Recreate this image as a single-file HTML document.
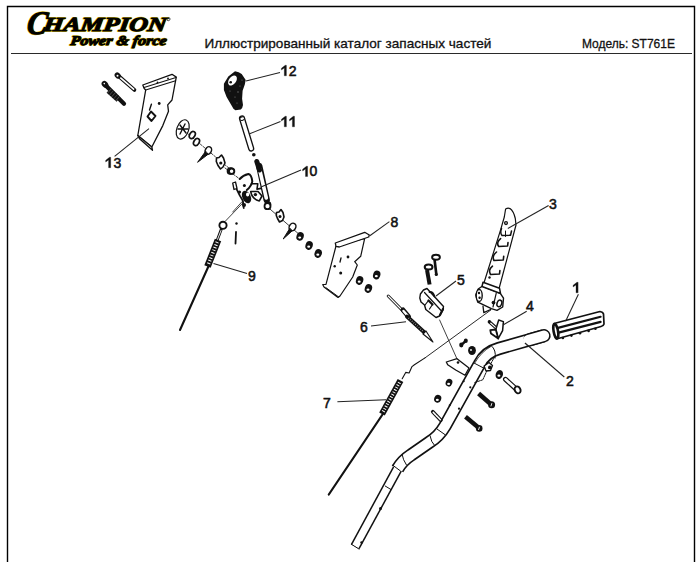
<!DOCTYPE html>
<html><head><meta charset="utf-8">
<style>
html,body{margin:0;padding:0;background:#fff;}
body{width:700px;height:562px;position:relative;overflow:hidden;font-family:"Liberation Sans",sans-serif;}
.frame{position:absolute;left:7px;top:6px;width:686px;height:600px;border:1.5px solid #111;box-sizing:border-box;}
.hline{position:absolute;left:11px;top:53px;width:681px;height:1.5px;background:#333;}
.t{position:absolute;white-space:nowrap;color:#111;}
svg{position:absolute;left:0;top:0;}
</style></head><body>
<svg width="700" height="562" viewBox="0 0 700 562">
<path d="M7.5 562 L7.5 6.5 L694.5 6.5 L694.5 562" fill="none" stroke="#000" stroke-width="1.4"/>
<path d="M11 53.5 L692 53.5" stroke="#2a2a2a" stroke-width="1.2"/>
<g id="logo" font-family="Liberation Serif" font-weight="bold" font-style="italic" transform="translate(4.2,0) skewX(-8)">
<g fill="#e8c81a" stroke="#e8c81a" stroke-width="1.8" stroke-linejoin="round">
<text x="26.6" y="33.7" font-size="33" textLength="20" lengthAdjust="spacingAndGlyphs">C</text>
<text x="42.8" y="30.7" font-size="20" textLength="123" lengthAdjust="spacingAndGlyphs">HAMPION</text>
<text x="72.3" y="45.4" font-size="13.5" textLength="96" lengthAdjust="spacingAndGlyphs">Power &amp; force</text>
</g>
<g fill="#000" stroke="#000" stroke-width="1.0" stroke-linejoin="round">
<text x="26.6" y="33.7" font-size="33" textLength="20" lengthAdjust="spacingAndGlyphs">C</text>
<text x="42.8" y="30.7" font-size="20" textLength="123" lengthAdjust="spacingAndGlyphs">HAMPION</text>
<text x="72.3" y="45.4" font-size="13.5" textLength="96" lengthAdjust="spacingAndGlyphs">Power &amp; force</text>
</g>
<circle cx="167" cy="19.2" r="1.5" fill="none" stroke="#222" stroke-width="0.8"/>
</g>
<g id="hdr" font-family="Liberation Sans" font-size="12.6" fill="#111" stroke="#111" stroke-width="0.3">
<text x="204.4" y="47.7" textLength="287" lengthAdjust="spacingAndGlyphs">Иллюстрированный каталог запасных частей</text>
<text x="581.9" y="47.7" textLength="93" lengthAdjust="spacingAndGlyphs">Модель: ST761E</text>
</g>
<g id="handle" fill="none" stroke-linejoin="round">
<path d="M543.5 335.8 L499 348.5 Q485.3 352.2 479.5 364 L445 426 Q438.9 436.5 429 442.5 L411 455 Q402.1 460.8 397.5 469" stroke="#111" stroke-width="13.3"/>
<path d="M398.5 467 L355.2 546.6" stroke="#111" stroke-width="10.2"/>
<path d="M543.5 335.8 L499 348.5 Q485.3 352.2 479.5 364 L445 426 Q438.9 436.5 429 442.5 L411 455 Q402.1 460.8 397.5 469" stroke="#fff" stroke-width="10"/>
<path d="M398.5 467 L355.2 546.6" stroke="#fff" stroke-width="7.2"/>
<path d="M544 335.7 L530 339.6" stroke="#111" stroke-width="13.3" stroke-linecap="round"/>
<path d="M544 335.7 L528 340.2" stroke="#fff" stroke-width="10.3" stroke-linecap="round"/>

<g stroke="#111" stroke-width="1">
<path d="M473.4 362.7 L484.5 368.5"/>
<path d="M491 345.5 Q496.5 350 495 358.5"/>
<path d="M437 429 L445.5 435"/>
<path d="M430 435.5 Q431 442 435 446"/>
<path d="M402 454 Q403 460 406.5 465"/>
<path d="M392.5 465 L400.5 471"/>
<path d="M385 485.9 L391.1 489.6"/>
<path d="M351 544 L359.4 549.3"/>
</g>
<g fill="#111"><circle cx="380.5" cy="508.5" r="1.5"/><circle cx="361.6" cy="542.5" r="1.3"/></g>
</g>
<g id="parts" stroke-linecap="round" stroke-linejoin="round">
<!-- grip 1 -->
<g id="grip">
<path d="M554 323.5 L600 311.5 Q603 312 603.5 314 L604 324 Q603.5 326 601 326.5 L556.5 339 Z" fill="#fff" stroke="#111" stroke-width="1.7"/>
<path d="M558 327.9 L600.6 316.8 M558.6 332.6 L600.6 321.9" stroke="#111" stroke-width="2.2" fill="none"/>
<ellipse cx="555.8" cy="331.2" rx="2.2" ry="7.3" transform="rotate(-10 555.8 331.2)" fill="#fff" stroke="#111" stroke-width="2.6"/>
<g fill="#111"><circle cx="562.9" cy="338" r="1.3"/><circle cx="571.4" cy="335.6" r="1.3"/><circle cx="580" cy="333.2" r="1.3"/><circle cx="588.6" cy="330.9" r="1.3"/><circle cx="595.4" cy="328.8" r="1.3"/></g>
</g>
<!-- bar 3 -->
<g id="bar3" stroke="#111" stroke-width="1.2" fill="#fff">
<path d="M505.6 209 Q508 207.6 510 208.6 Q513.5 211 515.3 218.5 L516 225 L498.8 289.5 L483.7 283.7 L500.6 229.9 L504.3 217 Z"/>
<path d="M483 306.2 L483.8 312.7 L490.6 309.5" fill="#fff" stroke-width="1.3"/>
<path d="M478.2 289 L482.2 286.2 L500.3 293.4 L503.5 298.2 L502.7 307 L497 310.3 L491.4 308.7 L477.8 302.2 L475.8 295 Z" stroke-width="1.4"/>
<path d="M483 282.2 L499.5 288.2 L500.5 293.5 L482 286.5 Z" stroke-width="1.5"/>
<ellipse cx="479.2" cy="295.5" rx="3" ry="6" stroke-width="1.4"/>
<g fill="#111" stroke="none"><circle cx="479" cy="293" r="1.2"/><circle cx="479.6" cy="297.8" r="1.2"/><circle cx="493.5" cy="302.6" r="1.9"/></g>
<path d="M496.2 293.4 L493 307" fill="none" stroke-width="1.2"/>
<ellipse cx="499.4" cy="303.4" rx="2.3" ry="3.4" transform="rotate(20 499.4 303.4)" stroke-width="1.5"/>
<circle cx="506" cy="223.1" r="1.4" fill="#fff" stroke-width="1.3"/>

<path d="M501.5 228.5 Q499.8 233 502 235.5 L510.5 235.3 L511.5 231" fill="none" stroke-width="1.5"/>
<path d="M505.5 231 L505.5 236.5" stroke-width="1"/>
<path d="M500.6 238.6 Q495.8 242.5 498.7 246.5 L507.6 246 L508 242.6" fill="none" stroke-width="1.6"/>
<path d="M496.5 252 Q491.5 256 494 260.5 L503.3 260 L503.7 256.4" fill="none" stroke-width="1.6"/>
<path d="M492.5 266.2 Q487.8 270 490.5 274.5 L499.5 274 L499.9 270.6" fill="none" stroke-width="1.6"/>
<circle cx="489.5" cy="277.5" r="1.2" fill="#111" stroke="none"/>
</g>
<!-- clip 4 -->
<g id="clip4" stroke="#111" fill="#fff">
<path d="M489.5 322 L496 327.8" stroke-width="3.2"/>
<path d="M489.5 322 L496 327.8" stroke="#fff" stroke-width="1.1"/>
<circle cx="489.3" cy="321.7" r="1.6" fill="#111" stroke="none"/>
<path d="M498.7 320 L503.4 321.6 L502.6 330.6 L498.2 338.6 L495.8 329.5 Z" stroke-width="1.5"/>
<path d="M490.3 330.2 L495.8 329.5 L498.2 338.6 L491 333.6 Z" stroke-width="1.8"/>
</g>
<!-- part 5 -->
<g id="p5" stroke="#111" fill="#fff">
<path d="M423.5 290 L427 288.5 L443.5 306.5 L443 310 L439.5 316 L436 317.5 L425.8 309.5 L424.5 305 L421 302 L419.8 298 L420.4 294 Z" stroke-width="1.4"/>
<path d="M424.5 292.5 L441.5 311 M425 305 L428.5 300.5 M429.5 309 L432.5 304.5" stroke-width="1.2" fill="none"/>
<path d="M429.5 292 Q433 291.5 434.5 296.5" stroke-width="1.8" fill="none"/>
<path d="M428.5 300.5 L432.5 304.5 M440 315 L443 309" stroke-width="2.2" fill="none"/>
<ellipse cx="428.6" cy="267" rx="3.9" ry="2.6" fill="#fff" stroke-width="2"/>
<path d="M427 270 L429.6 284.5" stroke-width="4" stroke-linecap="butt"/>
<ellipse cx="436" cy="257.3" rx="3.9" ry="2.5" stroke-width="1.9"/>
<path d="M434.6 260 L436.3 274" stroke-width="2.6"/>
<circle cx="436.3" cy="274.5" r="1.6" fill="#111" stroke="none"/>
</g>
<!-- cable 6 -->
<g id="c6" stroke="#111" fill="none">
<path d="M388.2 296 L403.5 311.5" stroke-width="3"/>
<path d="M388.2 296 L403.5 311.5" stroke="#fff" stroke-width="1.1"/>
<path d="M403 310 L408.5 316.5" stroke-width="5"/>
<path d="M403.5 311 L407.5 315.5" stroke="#fff" stroke-width="2.4"/>
<path d="M407 316.5 L424.5 332.5" stroke-width="4"/>
<path d="M408.5 318 L423 331.2" stroke="#fff" stroke-width="1.6" stroke-dasharray="0.7 1.6" stroke-linecap="butt" opacity="0.6"/>
<path d="M423 334 L426 331 L433 342 Z" fill="#fff" stroke-width="1.1"/>
</g>
<!-- cable 7 -->
<g id="c7" stroke="#111" fill="none">
<path d="M384.2 412 L328.8 494.5" stroke-width="2.2"/>
<path d="M400.5 380.5 L382 414" stroke-width="6.4" stroke-linecap="butt"/>
<path d="M399.5 382.5 L383 412" stroke="#fff" stroke-width="3.2" stroke-dasharray="1 1.7" stroke-linecap="butt"/>
<path d="M402.2 378.7 L405.7 372.4 L409.1 373 L412 366.6 L414.4 364.8 L425 357.9" stroke-width="1.1"/>
<path d="M425 357.9 L490.8 310" stroke-width="0.9"/>
</g>
<!-- cable 9 -->
<g id="c9" stroke="#111" fill="none">
<circle cx="223" cy="225.3" r="3.6" stroke-width="1.9" fill="#fff"/>
<path d="M221.2 229.5 L217.1 240.6" stroke-width="2.8"/>
<path d="M221 230.5 L217.5 239.5" stroke="#fff" stroke-width="0.9"/>
<path d="M218 240 L207.5 266.5" stroke-width="6.8" stroke-linecap="butt"/>
<path d="M217.2 242 L208.3 264.5" stroke="#fff" stroke-width="3.4" stroke-dasharray="1 1.8" stroke-linecap="butt"/>
<path d="M208.6 266 L180 330" stroke-width="2.1"/>
<path d="M225.5 221 L243.5 202.3" stroke-width="0.8"/>
<circle cx="236.5" cy="223.5" r="1.2" fill="#111" stroke="none"/>
<path d="M236 232 L235.5 243.5" stroke-width="1.8"/>
</g>
<!-- plate 13 -->
<g id="pl13" stroke="#111" fill="#fff">
<path d="M142.8 85 L172 74.3 L176.3 77.1 L175.6 80.7 L172 100 L167.7 104.9 L168.5 111.3 L162.8 125.6 L151.8 147 L137.8 135.5 L145.7 90 L144.2 88.5 Z" stroke-width="1.3"/>
<path d="M137.8 135.5 L139.5 138.8 L152.5 150.2 L151.8 147 Z" stroke-width="1.3"/>
<path d="M145.7 90 L175.6 80.7 M144 87.5 L176 77.5" fill="none" stroke-width="1.1"/>
<path d="M151 111.5 L155.5 116 L151.5 121 L147.5 116.5 Z" stroke-width="1.9"/>
<circle cx="159.2" cy="103.5" r="1.4" fill="#111" stroke="none"/>
<path d="M151.4 104.2 L149.5 110" stroke-width="1.4"/>
<circle cx="157.5" cy="82.5" r="0.9" fill="#111" stroke="none"/>
<circle cx="168" cy="78.5" r="0.9" fill="#111" stroke="none"/>
</g>
<!-- pin & bolt top-left -->
<g id="tlbolts" stroke="#111" fill="none">
<path d="M118.3 75.8 L134.4 89.9" stroke-width="3.8"/>
<path d="M118.3 75.8 L133.6 89.2" stroke="#fff" stroke-width="1.6"/>
<ellipse cx="117.7" cy="75.5" rx="2.8" ry="3.4" transform="rotate(-40 117.7 75.5)" fill="#111" stroke="none"/>
<circle cx="117.5" cy="75.7" r="1" fill="#fff" stroke="none"/>
<path d="M105.8 85.5 L124 103.8" stroke-width="4.2"/>
<path d="M108.5 90.5 L118.5 99.5" stroke-width="5.8" stroke-linecap="butt"/>
<path d="M109 91 L118 99" stroke="#fff" stroke-width="6.4" stroke-dasharray="0.6 2.2" stroke-linecap="butt" opacity="0.3"/>
<ellipse cx="105" cy="84.4" rx="3" ry="3.8" transform="rotate(-40 105 84.4)" fill="#111" stroke="none"/>
<circle cx="104.3" cy="83.6" r="0.8" fill="#fff" stroke="none"/>
</g>
<!-- knob 12 & rod 11 -->
<g id="knob">
<path d="M235 71.2 Q239 72 241.7 73.9 L245.7 80.1 L244.8 84.6 L242.6 90.8 L242.1 98.8 L243 105 Q242.5 108.5 240.8 109.4 L235.4 110.3 Q233 109 232.3 106.8 L226.6 97 L223.9 89.9 L223.9 83.7 L228.3 76.6 Z" fill="#111"/>
<ellipse cx="232.5" cy="80.5" rx="3.5" ry="5.6" transform="rotate(38 232.5 80.5)" fill="#fff"/>
<circle cx="230.7" cy="82.2" r="1.3" fill="#111"/>
<g fill="#777"><circle cx="238" cy="92" r="0.7"/><circle cx="235" cy="97" r="0.6"/><circle cx="240" cy="86" r="0.6"/><circle cx="230" cy="91" r="0.6"/><circle cx="237" cy="103" r="0.6"/><circle cx="242" cy="80" r="0.6"/></g>
<path d="M242 118.5 L251.2 148.5" stroke="#111" stroke-width="6.2" stroke-linecap="round"/>
<path d="M242 118.5 L251.2 148.5" stroke="#fff" stroke-width="3.6" stroke-linecap="round"/>
<ellipse cx="242.2" cy="118.6" rx="2.4" ry="1.8" transform="rotate(-20 242.2 118.6)" fill="#fff" stroke="#111" stroke-width="1"/>
<circle cx="253.8" cy="154.8" r="1.8" fill="#111"/>
</g>
<!-- disk & washers row top -->
<g id="row1" stroke="#111" fill="#fff">
<path d="M187 133 L231.8 170.5" stroke-width="0.8" stroke-dasharray="2 1.5" fill="none"/>
<ellipse cx="182.7" cy="129.4" rx="5.9" ry="10" transform="rotate(20 182.7 129.4)" stroke-width="1.2"/>
<path d="M180 125 L186 133 M185 124 L180 134 M178 129 L188 129" stroke-width="1.4" fill="none"/>
<ellipse cx="192.3" cy="135" rx="2.6" ry="3.8" transform="rotate(30 192.3 135)" stroke-width="1.7"/>
<ellipse cx="196.5" cy="142" rx="2.6" ry="3.8" transform="rotate(30 196.5 142)" stroke-width="1.7"/>
<ellipse cx="208.3" cy="150.5" rx="3" ry="4" transform="rotate(30 208.3 150.5)" stroke-width="1.5"/>
<path d="M205.5 151.5 L197.6 162.3 L207.8 154.5 Z" fill="#111" stroke-width="1"/>
<path d="M216.5 158 L219 157.5 L221.5 155 L223.5 158 L225 163 L223 167 L220.5 169 L218 165.5 L216.3 161.5 Z" stroke-width="1.6"/>
<circle cx="220.8" cy="163" r="1.6" fill="#111" stroke="none"/>
<circle cx="230.5" cy="171" r="3" stroke-width="1.7"/>
</g>
<!-- mechanism 10 -->
<g id="mech" stroke="#111" fill="none">
<path d="M225 168 L239.7 179" stroke-width="0.8" stroke-dasharray="2 1.5"/>
<path d="M259.2 166 L266.7 200" stroke-width="6.4"/>
<path d="M259.5 169 L266.3 198" stroke="#fff" stroke-width="3.6"/>
<path d="M256.8 161.5 L259.5 170" stroke-width="5"/>
<path d="M239.7 179 Q243 175 248.4 173.9 Q251.5 174.5 252.3 181.3 Q251.5 186 246.8 190" stroke-width="2"/>
<path d="M232.7 183 L235.5 182 L237 188.5 L234 189.5 Z" stroke-width="1.3" fill="#fff"/>
<path d="M236.6 189.1 L239.7 195.4 L242.9 200.9 L243.7 208" stroke-width="1.8"/>
<path d="M251.5 183.7 L257.8 183.7 L257 189.1 L261 188.4" stroke-width="1.6"/>
<path d="M250.7 191.5 Q252 199 259.3 200.9 L262 196 L258 191.5 Z" stroke-width="1.6" fill="#fff"/>
<ellipse cx="246.5" cy="197" rx="4.2" ry="6.5" transform="rotate(-25 246.5 197)" fill="#111" stroke="none"/>
<ellipse cx="247.6" cy="194.5" rx="1.6" ry="2" fill="#fff" stroke="none"/>
<g fill="#111" stroke="none"><circle cx="255.4" cy="194.6" r="1.7"/><circle cx="244.4" cy="185.6" r="1.5"/><circle cx="244" cy="205" r="2"/><circle cx="268" cy="204.5" r="3.3"/><circle cx="239.5" cy="192" r="1.6"/></g>
<path d="M242 201.7 L232.7 212" stroke-width="0.8"/>
<circle cx="231.6" cy="171.2" r="2.7" stroke-width="1.9" fill="#fff"/>
</g>
<!-- row below mechanism -->
<g id="row2" stroke="#111" fill="#fff">
<path d="M268.5 207.8 L300.6 235.6" stroke-width="0.8" fill="none"/>
<circle cx="267.5" cy="206.2" r="3" stroke-width="1.8"/>
<path d="M276.5 212.5 L279 212 L281 209.5 L283 212.5 L284 217 L282.5 220.5 L279.5 222 L277.5 218.5 L276.3 215.5 Z" stroke-width="1.6"/>
<circle cx="280" cy="216.5" r="1.5" fill="#111" stroke="none"/>
<ellipse cx="292.5" cy="227" rx="3.2" ry="4" transform="rotate(30 292.5 227)" stroke-width="1.5"/>
<path d="M289.7 228.5 L283.2 239 L292 231 Z" fill="#111" stroke-width="1"/>
<g transform="translate(300.1 236.4)"><ellipse rx="3.6" ry="4.4" transform="rotate(20)" fill="#111" stroke="none"/><ellipse cx="-0.4" cy="1.2" rx="1.5" ry="1.1" fill="#fff" stroke="none"/></g>
<g transform="translate(309.1 245.5)"><ellipse rx="3.6" ry="4.4" transform="rotate(20)" fill="#111" stroke="none"/><ellipse cx="-0.4" cy="1.2" rx="1.5" ry="1.1" fill="#fff" stroke="none"/></g>
<g transform="translate(318.2 253.5)"><ellipse rx="3.6" ry="4.4" transform="rotate(20)" fill="#111" stroke="none"/><ellipse cx="-0.4" cy="1.2" rx="1.5" ry="1.1" fill="#fff" stroke="none"/></g>

</g>
<!-- plate 8 -->
<g id="pl8" stroke="#111" fill="#fff">
<path d="M336 246 L326 284.3 L322.7 284.5 L324 287 L338 297.5 L340 296 L352.7 277 L357.3 265 L354.7 261.7 L360.7 256.3 L364.7 238.3 Z" stroke-width="1.2"/>
<path d="M335.3 243 L364.7 232.3 L369.3 235 L368.7 237 L339.3 247 L336 246.3 Z" stroke-width="1.3"/>
<path d="M326 287.7 L338.7 297" stroke-width="1" fill="none"/>
<circle cx="348" cy="257" r="1.4" fill="#111" stroke="none"/>
<path d="M341 258 L340 262" stroke-width="1.3"/>
<circle cx="334.7" cy="266.3" r="1.2" fill="#111" stroke="none"/>
<circle cx="340.7" cy="273" r="1.5" fill="#111" stroke="none"/>

<g transform="translate(359.6 280.5)"><ellipse rx="3.6" ry="4.4" transform="rotate(20)" fill="#111" stroke="none"/><ellipse cx="-0.4" cy="1.2" rx="1.5" ry="1.1" fill="#fff" stroke="none"/></g>
<g transform="translate(368.4 288.5)"><ellipse rx="3.6" ry="4.4" transform="rotate(20)" fill="#111" stroke="none"/><ellipse cx="-0.4" cy="1.2" rx="1.5" ry="1.1" fill="#fff" stroke="none"/></g>
<g transform="translate(376.7 275)"><ellipse rx="3.6" ry="4.4" transform="rotate(20)" fill="#111" stroke="none"/><ellipse cx="-0.4" cy="1.2" rx="1.5" ry="1.1" fill="#fff" stroke="none"/></g>
</g>
<!-- handle hardware -->
<g id="hw" stroke="#111" fill="#fff">
<path d="M439.6 320 L458.3 361.8" stroke-width="0.8" fill="none"/>
<path d="M461.5 344.8 L465.6 341" stroke-width="2.4" fill="none"/>
<ellipse cx="461.3" cy="345" rx="2.1" ry="2.4" fill="#111" stroke="none"/><ellipse cx="465.8" cy="340.8" rx="2" ry="2.3" fill="#111" stroke="none"/>
<ellipse cx="472" cy="350.5" rx="3.9" ry="4.6" fill="#111" stroke="none"/>
<circle cx="471" cy="350" r="0.9" fill="#fff" stroke="none"/>
<path d="M446.3 362 L457 358.7 L469 368 L465 375.3 L455.7 370 L447.7 364.7 Z" stroke-width="1.3"/>
<circle cx="458" cy="362.5" r="1.3" fill="#111" stroke="none"/>
<g transform="translate(449 382.7)"><ellipse rx="3.3" ry="3.9" transform="rotate(20)" fill="#111" stroke="none"/><ellipse cx="-0.4" cy="1.2" rx="1.5" ry="1.1" fill="#fff" stroke="none"/></g><g transform="translate(437.7 398.7)"><ellipse rx="3.5" ry="4" transform="rotate(20)" fill="#111" stroke="none"/><ellipse cx="-0.4" cy="1.2" rx="1.5" ry="1.1" fill="#fff" stroke="none"/></g>
<path d="M432.8 411.8 L440.8 420.2" stroke-width="3.8" fill="none"/>
<path d="M433.3 412.4 L440.3 419.6" stroke="#fff" stroke-width="1.6" stroke-dasharray="1.2 0.8" fill="none"/>
<path d="M474.8 362.9 Q481 352 490.8 346.5" stroke-width="0.8" fill="none"/>
<path d="M494.4 357.1 L486.4 371.8 L482.8 379.8 L474.8 382.5" stroke-width="1" stroke-dasharray="1.6 1" fill="none"/>
<path d="M484.1 366 L489 362.5 L492.5 365.5 L490.5 370.5 L486 371 Z" stroke-width="1.3"/>
<circle cx="489.9" cy="367.4" r="1.9" fill="#111" stroke="none"/>
<g transform="translate(499.3 374.5)"><ellipse rx="3.6" ry="4.6" transform="rotate(20)" fill="#111" stroke="none"/><ellipse cx="-0.4" cy="1.2" rx="1.5" ry="1.1" fill="#fff" stroke="none"/></g>
<path d="M505.5 379.3 L515.4 388.3" stroke-width="5" fill="none"/>
<path d="M505.5 379.3 L515.4 388.3" stroke="#fff" stroke-width="2.6" fill="none"/>
<ellipse cx="517.6" cy="389.9" rx="2.8" ry="3.6" transform="rotate(-30 517.6 389.9)" fill="#fff" stroke-width="1.9"/>
<path d="M478.6 393.6 L490 403.6" stroke-width="4.6" stroke-linecap="butt" fill="none"/>
<circle cx="491.6" cy="404.7" r="3.5" fill="#111" stroke="none"/>
<path d="M491.8 403.5 L491 406" stroke="#fff" stroke-width="0.9"/>
<path d="M465.5 416.8 L477.8 427" stroke-width="4.4" stroke-linecap="butt" fill="none"/>
<circle cx="479.2" cy="428.4" r="3.3" fill="#111" stroke="none"/>
<path d="M479.4 427.2 L478.6 429.6" stroke="#fff" stroke-width="0.9"/>
<g fill="#111" stroke="none"><circle cx="463.7" cy="381.3" r="1"/><circle cx="449.7" cy="405.3" r="1"/><circle cx="470.3" cy="387.3" r="1.1"/><circle cx="459" cy="408.7" r="1.1"/></g>
</g>
</g>
<g id="labels" font-family="Liberation Sans" font-size="14" fill="#111" stroke="#111" stroke-width="0.55">
<text x="288.8" y="75.6">2</text>

<text x="309.4" y="176.3">0</text>
<text x="113.5" y="167.5">3</text>
<text x="248" y="281">9</text>
<text x="390.5" y="227">8</text>
<text x="549" y="209">3</text>
<text x="457" y="285">5</text>
<text x="526" y="311">4</text>
<path d="M286.4 75.8 L286.4 65.3 L285.2 65.3 L281.4 68.3 L281.4 70.0 L284.3 67.9 L284.3 75.8 Z M286.4 126.8 L286.4 116.3 L285.2 116.3 L281.4 119.3 L281.4 121.0 L284.3 118.9 L284.3 126.8 Z M294.5 126.8 L294.5 116.3 L293.3 116.3 L289.5 119.3 L289.5 121.0 L292.4 118.9 L292.4 126.8 Z M110.7 167.7 L110.7 157.3 L109.5 157.3 L105.7 160.3 L105.7 162.0 L108.6 159.9 L108.6 167.7 Z M578.1 292.8 L578.1 282.3 L576.9 282.3 L573.1 285.3 L573.1 287.0 L576.0 284.9 L576.0 292.8 Z M307.6 176.5 L307.6 166.3 L306.4 166.3 L302.6 169.3 L302.6 171.0 L305.5 168.9 L305.5 176.5 Z" stroke-width="0.3"/>
<text x="360" y="332">6</text>
<text x="566" y="386">2</text>
<text x="323" y="408">7</text>
</g>
<g id="leaders" stroke="#222" stroke-width="1.05" fill="none">
<line x1="246" y1="81" x2="280" y2="72.5"/>
<line x1="249" y1="134" x2="280.5" y2="121.5"/>
<line x1="261" y1="187" x2="301" y2="170"/>
<line x1="114.6" y1="156.4" x2="149" y2="128.6"/>
<line x1="213.5" y1="263.5" x2="247" y2="273.4"/>
<line x1="369.8" y1="235.8" x2="389.4" y2="221.6"/>
<line x1="507.8" y1="228.5" x2="548.6" y2="205.5"/>
<line x1="436" y1="296" x2="456" y2="281"/>
<line x1="503" y1="325" x2="526.7" y2="311.2"/>
<line x1="565.6" y1="321.2" x2="578.4" y2="294.2"/>
<line x1="371" y1="326" x2="406" y2="321.7"/>
<line x1="525" y1="343" x2="564.3" y2="377"/>
<line x1="337.4" y1="401.8" x2="386" y2="399.8"/>
</g>
</svg>
</body></html>
